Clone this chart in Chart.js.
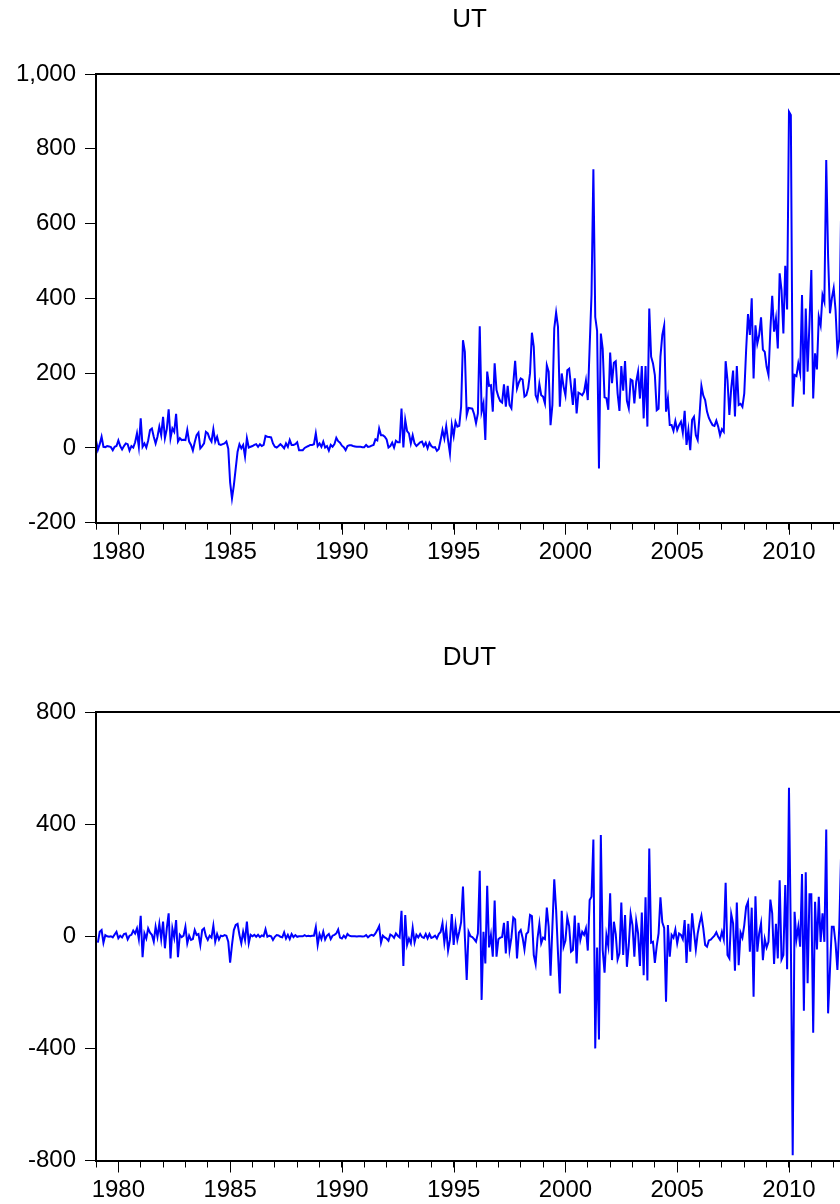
<!DOCTYPE html>
<html>
<head>
<meta charset="utf-8">
<script src="https://cdn.jsdelivr.net/npm/chart.js@4.4.1/dist/chart.umd.min.js"></script>
<style>
  html, body { margin: 0; padding: 0; background: #fff; overflow: hidden; }
  canvas { position: absolute; left: 0; }
  #chartUT { top: 0; }
  #chartDUT { top: 600px; }
</style>
</head>
<body>
<canvas id="chartUT" width="860" height="600"></canvas>
<canvas id="chartDUT" width="860" height="604"></canvas>
<script>
// ---------------------------------------------
// monthly data, first observation 1979M01
// ---------------------------------------------
const START_YEAR = 1979;

const ut = [
  20, -5, 10, 30, 3, 2, 5, 4, 2, -6,
  3, 5, 20, 5, -4, 5, 12, 10, -7, 5,
  1, 15, 39, 3, 79, 3, 12, 1, 20, 48,
  52, 30, 12, 30, 57, 34, 83, 26, 50, 103,
  26, 52, 43, 91, 17, 26, 21, 22, 21, 48,
  17, 8, -7, 15, 34, 41, -1, 5, 12, 43,
  39, 25, 17, 50, 17, 30, 10, 8, 10, 12,
  17, -2, -92, -135, -100, -55, -10, 10, -1, 8,
  -23, 26, 1, 3, 5, 8, 10, 3, 10, 5,
  8, 32, 30, 29, 28, 12, 3, 1, 5, 10,
  5, -1, 12, 3, 21, 8, 8, 10, 15, -6,
  -6, -6, 0, 3, 5, 8, 8, 10, 39, 5,
  12, 3, 17, 1, 5, -7, 8, 3, 10, 27,
  18, 14, 6, 2, -6, 5, 7, 7, 5, 4,
  3, 3, 3, 2, 2, 8, 3, 4, 6, 8,
  23, 20, 52, 34, 34, 30, 23, 1, 5, 14,
  1, 19, 15, 15, 105, 1, 75, 45, 39, 12,
  34, 12, 5, 10, 15, 17, 5, 14, -1, 14,
  5, 1, 2, -8, -3, 21, 48, 25, 58, 20,
  -15, 61, 32, 70, 57, 59, 110, 288, 257, 88,
  107, 106, 105, 90, 66, 92, 325, 97, 119, 21,
  204, 166, 168, 97, 226, 155, 137, 125, 121, 170,
  110, 166, 115, 106, 173, 233, 159, 175, 186, 183,
  137, 141, 160, 200, 308, 270, 141, 128, 171, 141,
  137, 119, 221, 204, 61, 115, 320, 362, 324, 110,
  199, 164, 141, 208, 212, 164, 115, 186, 92, 148,
  145, 141, 150, 180, 128, 270, 410, 745, 350, 313,
  -55, 306, 265, 135, 133, 102, 255, 173, 228, 232,
  146, 99, 219, 153, 232, 126, 106, 183, 180, 119,
  177, 204, 132, 219, 79, 219, 57, 373, 244, 226,
  195, 101, 105, 244, 302, 327, 97, 132, 61, 61,
  46, 72, 48, 61, 70, 41, 99, 8, 48, -6,
  75, 83, 34, 21, 88, 166, 140, 128, 97, 80,
  70, 61, 59, 73, 57, 34, 50, 43, 232, 181,
  88, 160, 207, 84, 219, 115, 118, 110, 146, 262,
  358, 302, 400, 186, 328, 279, 302, 349, 263, 257,
  217, 195, 315, 407, 311, 346, 266, 467, 422, 306,
  487, 370, 899, 890, 110, 195, 192, 226, 200, 409,
  143, 373, 204, 333, 476, 132, 253, 210, 351, 328,
  409, 391, 770, 511, 360, 400, 427, 369, 260, 290,
  640, 560
];

const dut = [
  null, -23, 16, 22, -23, 4, 0, -2, 0, -4,
  6, 16, -7, 2, -4, 8, 10, -11, 2, 5,
  20, 10, 28, -10, 73, -75, 10, -8, 28, 13,
  5, -19, 34, -2, 44, -10, 52, -43, 28, 82,
  -79, 28, -5, 58, -75, 5, -3, 2, 34, -25,
  2, -13, -10, 22, 5, 8, -31, 22, 28, 0,
  -13, 2, -5, 38, -19, 8, -12, 2, 0, 4,
  2, -19, -94, -31, 22, 40, 44, 5, -25, 16,
  -13, 52, -25, 5, 0, 5, -2, 5, -3, 3,
  0, 25, -2, 2, 0, -13, -2, 4, 3, -2,
  -4, 14, -8, 5, -10, 8, -3, 4, -2, 0,
  0, 0, 4, 0, 2, 0, 2, 2, 33, -31,
  8, -10, 16, -12, 2, 8, -10, 2, 5, 10,
  24, -5, -8, 2, -6, 8, 2, 0, 0, 0,
  -1, 0, 0, -1, 0, 4, -4, 2, 5, 2,
  10, 22, 36, -23, 2, -4, -8, -16, 6, 2,
  -6, 10, 2, -4, 91, -106, 76, -31, -8, -25,
  30, -22, 5, -4, 8, -3, -6, 8, -8, 8,
  -6, -3, 2, -8, 8, 15, 46, -23, 28, -51,
  -13, 79, -31, 40, -13, 16, 50, 177, 0, -156,
  16, 0, -3, -10, -19, 10, 234, -227, 16, -97,
  180, -40, 4, -73, 127, -73, -11, -5, -3, 48,
  -61, 54, -49, -5, 67, 60, -79, 13, 22, -5,
  -47, 8, 15, 76, 72, -67, -99, -8, 44, -25,
  -5, -10, 102, 34, -141, 34, 203, 94, -60, -204,
  91, -37, -15, 67, 36, -55, -49, 74, -97, 48,
  -13, 16, 5, 28, -51, 129, 141, 345, -400, -40,
  -368, 361, -49, -130, 4, -35, 153, -85, 52, 8,
  -83, -61, 120, -67, 76, -109, -31, 79, 40, -73,
  54, 10, -106, 85, -139, 139, -158, 313, -23, -20,
  -95, -35, 10, 139, 50, 30, -234, 40, -73, 5,
  -5, 24, -25, 10, 5, -10, 58, -95, 44, -55,
  82, 16, -47, 10, 46, 73, 28, -31, -37, -15,
  -12, -5, 2, 14, -2, -13, 16, -11, 191, -67,
  -79, 79, 46, -123, 120, -103, 13, -5, 40, 105,
  123, -55, 102, -216, 143, -55, 10, 46, -85, -10,
  -40, -20, 131, 82, -99, 44, -79, 200, -83, -67,
  183, -118, 530, -10, -781, 87, -11, 34, -37, 222,
  -266, 228, -168, 150, 150, -344, 123, -47, 141, -20,
  82, -20, 381, -275, -120, 34, 34, -25, -120, 34,
  300, -60
];

// x positions: one per month, in fractional years
const months = ut.map((_, i) => START_YEAR + i / 12);

// axis ticks
const yearTicks = [];
for (let y = 1979; y <= 2012; y++) yearTicks.push(y);
const yearLabels = [1980, 1985, 1990, 1995, 2000, 2005, 2010];

const FONT = { family: "'Liberation Sans', Arial, sans-serif", size: 24 };

// frame round the plot + longer marks under the labelled years
const framePlugin = {
  id: 'frame',
  afterDraw(chart) {
    const { ctx, chartArea: a } = chart;
    const x = chart.scales.x;
    ctx.save();
    ctx.strokeStyle = '#000';
    ctx.lineWidth = 1;
    ctx.beginPath();
    yearLabels.forEach(yr => {
      const px = Math.round(x.getPixelForValue(yr)) + 0.5;
      ctx.moveTo(px, a.bottom);
      ctx.lineTo(px, a.bottom + 12);
    });
    ctx.stroke();
    ctx.lineWidth = 2;
    ctx.strokeRect(Math.round(a.left), Math.round(a.top), a.right - a.left, Math.round(a.bottom) - Math.round(a.top));
    ctx.restore();
  }
};

function makeChart(id, title, values, yMin, yMax, yStep, titlePad, axisHeight) {
  return new Chart(document.getElementById(id), {
    type: 'line',
    data: {
      labels: months,
      datasets: [{
        data: values,
        borderColor: '#0000ff',
        borderWidth: 2,
        pointRadius: 0,
        fill: false,
        tension: 0
      }]
    },
    options: {
      responsive: false,
      animation: false,
      devicePixelRatio: 1,
      layout: { padding: { left: 0, right: 17, top: 0, bottom: 0 } },
      plugins: {
        legend: { display: false },
        tooltip: { enabled: false },
        title: {
          display: true,
          text: title,
          color: '#000',
          fullSize: false,
          font: { ...FONT, size: 26, weight: 'normal' },
          padding: titlePad
        }
      },
      scales: {
        x: {
          type: 'linear',
          min: START_YEAR,
          max: months[months.length - 1],
          afterBuildTicks: s => { s.ticks = yearTicks.map(v => ({ value: v })); },
          afterFit: s => { s.height = axisHeight; },
          grid: { drawOnChartArea: false, tickLength: 7, color: '#000', lineWidth: 1 },
          border: { display: false },
          ticks: {
            autoSkip: false,
            maxRotation: 0,
            padding: 8,
            color: '#000',
            font: FONT,
            callback: v => yearLabels.includes(v) ? String(v) : ''
          }
        },
        y: {
          min: yMin,
          max: yMax,
          afterFit: s => { s.width = 96; },
          grid: { drawOnChartArea: false, tickLength: 11, color: '#000', lineWidth: 1 },
          border: { display: false },
          ticks: { stepSize: yStep, padding: 9, color: '#000', font: FONT }
        }
      }
    },
    plugins: [framePlugin]
  });
}

makeChart('chartUT', 'UT', ut, -200, 1000, 200, { top: 4.6, bottom: 38.2 }, 77.3);
makeChart('chartDUT', 'DUT', dut, -800, 800, 400, { top: 42.6, bottom: 38.2 }, 43.5);
</script>
</body>
</html>
